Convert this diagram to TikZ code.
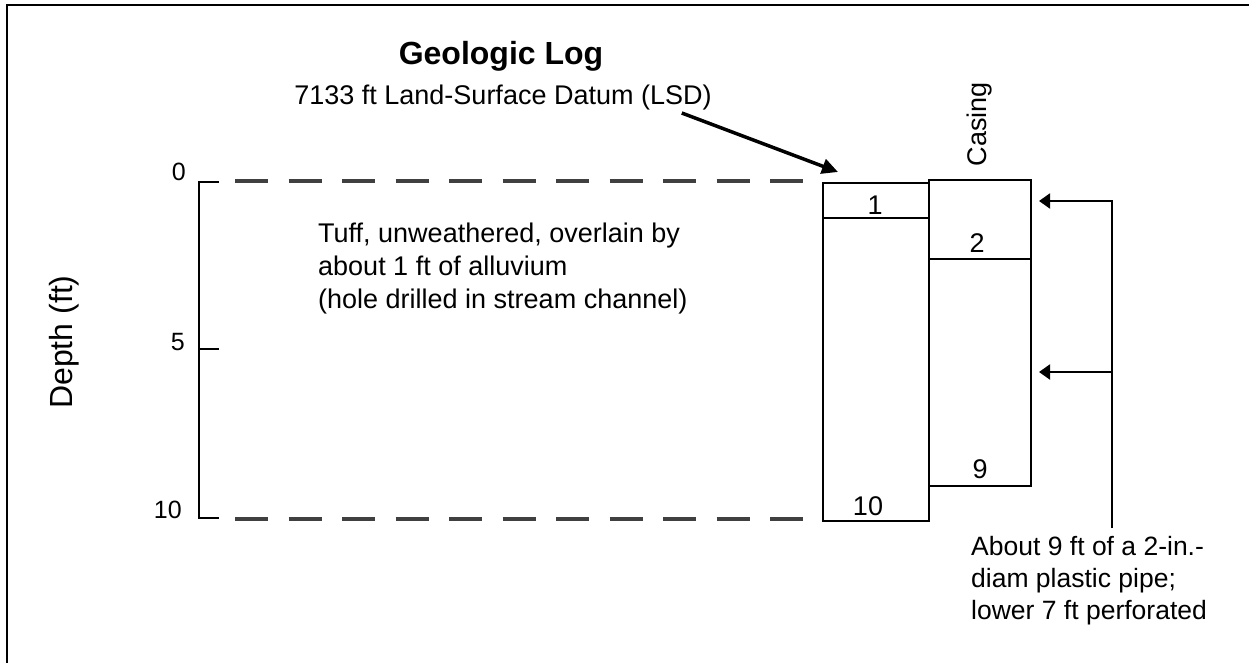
\documentclass[tikz,border=0pt]{standalone}
\usepackage{fontspec}
\setmainfont{Liberation Sans}
\usetikzlibrary{arrows.meta,positioning}

\begin{document}
\begin{tikzpicture}[x=1pt, y=-1pt, >={Triangle[length=11pt,width=15pt]},
    every node/.style={inner sep=0pt},
    txt/.style={font=\fontsize{27}{33}\selectfont, align=left},
    num/.style={font=\fontsize{27}{33}\selectfont, anchor=base},
    tick/.style={font=\fontsize{25}{30}\selectfont, anchor=base east},
    logbox/.style={draw, line width=2pt, outer sep=0pt},
    marker/.style={line width=3.5pt, black!75, dash pattern=on 33pt off 20.5pt},
    pipe/.style={line width=2pt}]

\useasboundingbox (0,0) rectangle (1249,663);

% Marc

\draw[line width=2pt] (7,663) -- (7,5) -- (1249,5);

% Titol

\node[font=\fontsize{32}{38}\selectfont\bfseries, anchor=base] (title) at (501,65) {Geologic Log};

\node[txt, anchor=base] (datum) at (503,105) {7133 ft Land-Surface Datum (LSD)};

% Eix de profunditat

\node[font=\fontsize{32}{38}\selectfont, rotate=90] (depth) at (64,342) {Depth (ft)};

\draw[pipe] (219,182) -- (199,182) -- (199,518) -- (219,518);

\draw[pipe] (199,349) -- (219,349);

\node[tick] (d0) at (186,180) {0};

\node[tick] (d5) at (185,350) {5};

\node[tick] (d10) at (182,518) {10};

% Linies discontinues

\draw[marker] (235,181) -- (803,181);

\draw[marker] (235,519) -- (803,519);

\node[txt, anchor=north west] (tuff) at (318,223)
  {Tuff, unweathered, overlain by\\about 1 ft of alluvium\\(hole drilled in stream channel)};

% Columnes

\node[logbox, minimum width=106pt, minimum height=338pt] (log) at (876,352) {};

\node[logbox, minimum width=102pt, minimum height=306pt] (casing) at (980,333) {};

\draw[pipe] ([yshift=-35pt]log.north west) -- ([yshift=-35pt]log.north east);

\draw[pipe] ([yshift=-79pt]casing.north west) -- ([yshift=-79pt]casing.north east);

\node[num] (one) at (875,214) {1};

\node[num] (two) at (977,252) {2};

\node[num] (nine) at (980,478) {9};

\node[num] (ten) at (868,515) {10};

\node[font=\fontsize{27}{33}\selectfont, rotate=90] (casinglbl) at (980,124) {Casing};

% Fletxes

\coordinate (lsdtail) at ([xshift=-30pt,yshift=-8pt]datum.base east);

\coordinate (lsdtip) at ([xshift=15pt,yshift=11pt]log.north west);

\draw[->, >={Triangle[length=16pt,width=15pt]}, line width=3.5pt] (lsdtail) -- (lsdtip);

\coordinate (pipetop) at (1112,201);

\coordinate (pipemid) at (1112,372);

\coordinate (pipebot) at (1112,528);

\draw[pipe, ->, shorten >=8pt] (pipebot) -- (pipetop) -- (casing.east |- pipetop);

\draw[pipe, ->, shorten >=8pt] (pipemid) -- (casing.east |- pipemid);

\node[font=\fontsize{26.5}{32}\selectfont, align=left, anchor=north west] (pipetxt) at (971,536)
  {About 9 ft of a 2-in.-\\diam plastic pipe;\\lower 7 ft perforated};

\end{tikzpicture}
\end{document}
